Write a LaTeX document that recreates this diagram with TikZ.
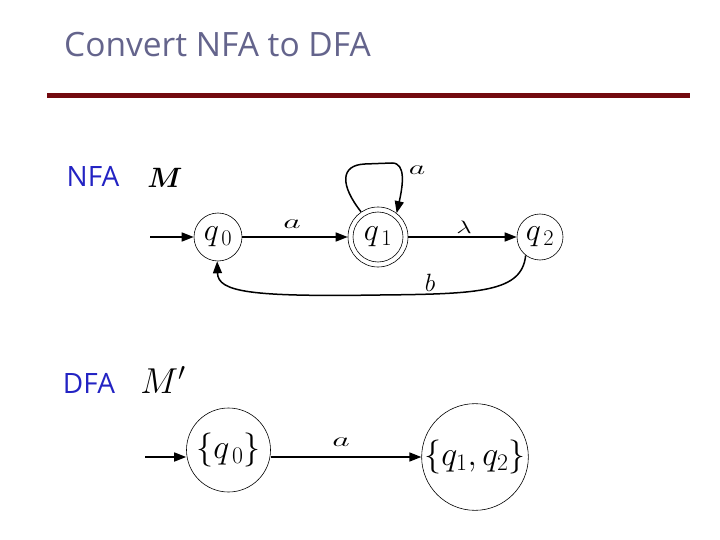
\RequirePackage{fix-cm}
\documentclass[tikz,border=0pt]{standalone}
\usepackage{fontspec}
\usepackage{bm}
\usepackage{graphicx}
\newfontfamily\titlefont{Open Sans}
\usetikzlibrary{arrows.meta}
\definecolor{titlegray}{RGB}{100,100,140}
\definecolor{barred}{RGB}{115,10,15}
\definecolor{labblue}{RGB}{35,35,195}
\newcommand{\wide}[2]{\scalebox{#1}[1]{$#2$}}
\begin{document}
\begin{tikzpicture}[x=1pt,y=-1pt,
  state/.style={circle,draw,line width=0.6pt,inner sep=0pt,minimum size=48pt,font=\fontsize{32}{34}\selectfont},
  edge/.style={line width=1.5pt,-{Triangle[length=12pt,width=9pt]}},
  elab/.style={inner sep=0pt,font=\fontsize{20}{22}\selectfont},
  side/.style={font=\titlefont\fontsize{28}{30}\selectfont,text=labblue}]
\useasboundingbox (0,0) rectangle (720,540);
\node[anchor=base west,font=\titlefont\fontsize{33.5}{36}\selectfont,text=titlegray,inner sep=0pt] (title) at (64,57) {Convert NFA to DFA};
\fill[barred] (47,93) rectangle (690,98);
% NFA
\node[side] (nfa) at (93,176) {NFA};
\node[font=\fontsize{28}{30}\selectfont] (m) at (165,178) {$\bm{M}$};
\node[state] (q0) at (218,237) {$q_{\,0}$};
\node[state,minimum size=60pt] (q1) at (378,237) {};
\node[circle,draw,line width=0.6pt,inner sep=0pt,minimum size=50pt,font=\fontsize{32}{34}\selectfont] (q1i) at (378,237) {$q_{\,1}$};
\node[state,minimum size=46pt] (q2) at (540,237) {$q_{\,2}$};
\coordinate (s0) at (150,237);
\draw[edge] (s0) -- (q0);
\draw[edge] (q0) -- (q1);
\node[elab] (la) at (292,224) {\wide{1.7}{a}};
\draw[edge] (q1) -- (q2);
\node[elab,font=\fontsize{18}{20}\selectfont] (ll) at (464,227) {\wide{1.5}{\lambda}};
\draw[edge] (q1.124) .. controls (340,185) and (340,165) .. (365,164) -- (392,163) .. controls (406,163) and (403,185) .. (q1.52);
\node[elab] (lloop) at (417,170) {\wide{1.6}{a}};
\draw[edge] (q2.-128) .. controls (522,292) and (480,294) .. (380,295) .. controls (250,297) and (218,292) .. (q0.-92);
\node[elab,font=\fontsize{25}{28}\selectfont] (lb) at (430,283) {$b$};
% DFA
\node[side] (dfa) at (89,383) {DFA};
\node[font=\fontsize{36}{38}\selectfont] (mp) at (163,380) {$M'$};
\node[state,minimum size=84pt,font=\fontsize{34}{36}\selectfont] (d0) at (228.5,450) {$\{q_{\,0}\}$};
\node[state,minimum size=106pt,font=\fontsize{34}{36}\selectfont] (d1) at (475,457) {$\{q_1,q_2\}$};
\coordinate (s1) at (145,457);
\draw[edge] (s1) -- (s1 -| d0.west);
\draw[edge] (d0.east |- 0,457) -- (d1.west |- 0,457);
\node[elab] (lda) at (341,442) {\wide{1.7}{a}};
\end{tikzpicture}
\end{document}
